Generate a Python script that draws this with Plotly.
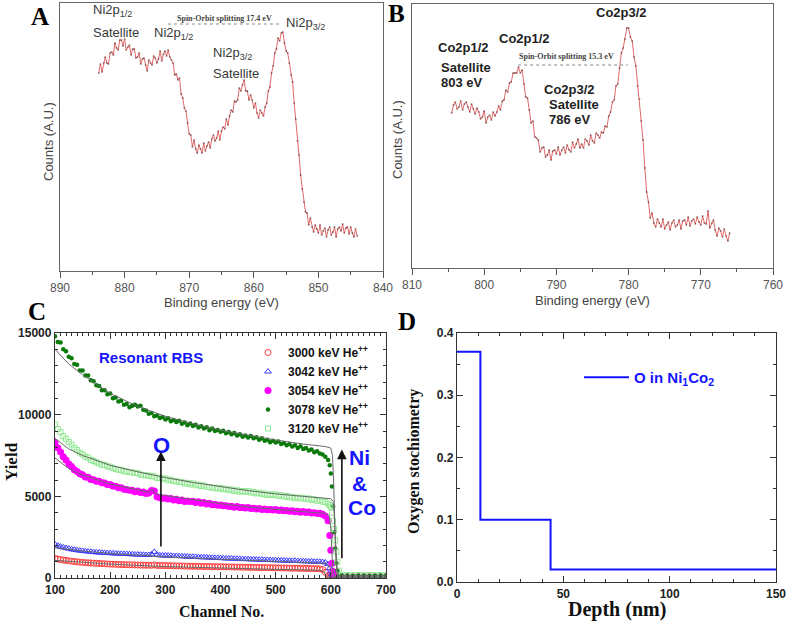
import plotly.graph_objects as go

W, H = 787, 621

def P(x, y):
    return x / W, 1 - y / H

# ---------------- Panel A: Ni 2p XPS ----------------
NI_E = [884.0 - 0.25 * i for i in range(161)]
NI_COUNTS = [198, 207, 199, 208, 214, 208, 207, 218, 219, 216,
             228, 223, 221, 231, 231, 225, 232, 221, 224, 226,
             216, 222, 222, 213, 214, 218, 207, 212, 213, 206,
             200, 211, 208, 206, 215, 213, 208, 212, 220, 210,
             217, 220, 215, 221, 214, 211, 208, 196, 197, 191,
             193, 177, 173, 163, 160, 148, 137, 136, 124, 131,
             122, 118, 126, 122, 118, 128, 120, 125, 129, 123,
             132, 136, 130, 133, 140, 131, 140, 144, 142, 152,
             146, 155, 161, 159, 170, 169, 171, 183, 180, 186,
             191, 180, 180, 171, 176, 171, 163, 168, 158, 153,
             161, 158, 155, 164, 168, 180, 184, 198, 205, 218,
             222, 233, 230, 238, 239, 228, 220, 218, 208, 196,
             189, 168, 152, 130, 116, 96, 82, 69, 59, 58,
             46, 53, 44, 39, 46, 42, 38, 46, 36, 40,
             43, 34, 41, 44, 36, 39, 44, 34, 42, 44,
             40, 47, 38, 43, 44, 37, 44, 38, 34, 42, 35]

# ---------------- Panel B: Co 2p XPS ----------------
CO_E = [804.5 - 0.25 * i for i in range(155)]
CO_COUNTS = [155, 163, 166, 159, 161, 167, 158, 164, 166, 161,
             156, 164, 159, 154, 160, 156, 149, 151, 157, 145,
             151, 153, 148, 156, 152, 156, 162, 158, 167, 168,
             178, 176, 185, 186, 195, 195, 195, 201, 195, 198,
             184, 171, 170, 158, 145, 147, 131, 130, 128, 116,
             120, 121, 111, 113, 118, 108, 117, 118, 114, 121,
             113, 118, 121, 115, 123, 118, 116, 126, 120, 124,
             129, 120, 124, 120, 129, 127, 123, 133, 127, 125,
             135, 133, 130, 136, 135, 142, 141, 152, 156, 166,
             168, 182, 184, 200, 215, 220, 229, 240, 240, 231,
             227, 211, 202, 182, 169, 147, 128, 100, 76, 66,
             50, 55, 45, 41, 49, 45, 41, 49, 39, 43,
             46, 38, 45, 48, 41, 43, 48, 39, 47, 48,
             43, 51, 42, 47, 49, 44, 51, 46, 43, 52,
             45, 44, 57, 40, 45, 48, 38, 32, 40, 37,
             31, 39, 32, 27, 35]

# ---------------- Panel C: resonant RBS ----------------
CH = list(range(100, 600, 5)) + [598, 600, 602, 604, 606, 608, 610, 612, 615,
                                 620, 630, 640, 650, 660, 670, 680, 690, 700]
Y3000 = [1200, 1160, 1130, 1100, 1080, 1050, 1030, 1010, 990, 970,
         960, 940, 930, 920, 910, 900, 890, 880, 870, 860,
         850, 845, 840, 830, 825, 820, 815, 810, 805, 800,
         795, 790, 785, 780, 780, 775, 800, 770, 765, 760,
         760, 755, 750, 745, 740, 740, 735, 730, 725, 720,
         720, 715, 710, 710, 705, 700, 700, 695, 690, 690,
         690, 685, 680, 680, 675, 670, 670, 665, 660, 660,
         655, 650, 650, 645, 640, 640, 635, 630, 630, 625,
         620, 620, 615, 610, 610, 605, 600, 600, 595, 590,
         590, 585, 580, 580, 575, 570, 560, 520, 350, 150,
         60, 30, 20, 20, 20, 20, 20, 20, 20, 20, 20, 20, 20, 20, 20, 20, 20, 20]
Y3042 = [2050, 1980, 1920, 1870, 1830, 1800, 1760, 1730, 1700, 1680,
         1660, 1640, 1620, 1600, 1590, 1570, 1560, 1550, 1540, 1530,
         1520, 1510, 1500, 1490, 1480, 1470, 1470, 1460, 1450, 1440,
         1440, 1430, 1420, 1410, 1410, 1450, 1600, 1430, 1390, 1380,
         1380, 1370, 1360, 1350, 1350, 1340, 1330, 1320, 1310, 1300,
         1300, 1290, 1280, 1270, 1270, 1260, 1250, 1240, 1230, 1230,
         1220, 1210, 1200, 1200, 1190, 1180, 1180, 1170, 1160, 1160,
         1150, 1140, 1140, 1130, 1120, 1120, 1110, 1110, 1100, 1090,
         1090, 1080, 1080, 1070, 1060, 1060, 1050, 1050, 1040, 1030,
         1030, 1020, 1020, 1010, 1000, 1000, 990, 980, 950, 850,
         600, 400, 220, 120, 80, 60, 50, 50, 50, 50, 50, 50, 50, 50, 50, 50, 50, 50]
Y3054 = [8300, 7980, 7720, 7430, 7220, 6980, 6820, 6630, 6520, 6380,
         6320, 6180, 6170, 6030, 6020, 5930, 5920, 5830, 5820, 5730,
         5720, 5630, 5620, 5530, 5520, 5430, 5420, 5380, 5370, 5280,
         5320, 5230, 5270, 5180, 5200, 5350, 5320, 4980, 4920, 4880,
         4900, 4830, 4870, 4780, 4820, 4730, 4770, 4680, 4720, 4680,
         4700, 4630, 4670, 4580, 4620, 4530, 4570, 4480, 4520, 4460,
         4470, 4430, 4420, 4380, 4400, 4330, 4370, 4310, 4320, 4280,
         4320, 4260, 4270, 4230, 4250, 4200, 4220, 4180, 4200, 4160,
         4190, 4130, 4170, 4110, 4140, 4080, 4120, 4060, 4090, 4030,
         4070, 4010, 4040, 3980, 4000, 3950, 3970, 3900, 3800, 3500,
         2600, 1700, 900, 400, 200, 120, 100, 80, 70, 60, 60, 60, 60, 60, 60, 60, 60, 60]
Y3078 = [14800, 14450, 14420, 14000, 13880, 13550, 13450, 13100, 13050, 12700,
         12700, 12400, 12400, 12100, 12050, 11800, 11750, 11500, 11500, 11250,
         11300, 11000, 11050, 10800, 10850, 10600, 10650, 10450, 10550, 10600,
         10500, 10550, 10300, 10250, 10050, 10100, 9900, 9950, 9800, 9850,
         9700, 9780, 9600, 9680, 9550, 9620, 9450, 9520, 9350, 9460,
         9300, 9380, 9220, 9290, 9150, 9230, 9050, 9150, 9000, 9060,
         8950, 9020, 8860, 8940, 8800, 8870, 8720, 8800, 8650, 8720,
         8600, 8700, 8550, 8620, 8460, 8550, 8400, 8470, 8310, 8400,
         8300, 8360, 8200, 8270, 8120, 8200, 8050, 8120, 7960, 8060,
         7900, 7960, 7800, 7870, 7700, 7760, 7620, 7560, 7420, 7220,
         6900, 6400, 5600, 4400, 2800, 1800, 900, 450, 200, 150, 150, 140, 150, 150, 140, 150, 150, 150]
Y3120 = [9400, 9120, 8930, 8680, 8520, 8330, 8170, 7980, 7830, 7680,
         7570, 7430, 7370, 7230, 7170, 7080, 7020, 6930, 6920, 6830,
         6820, 6730, 6680, 6630, 6620, 6530, 6520, 6480, 6470, 6430,
         6420, 6330, 6320, 6280, 6270, 6230, 6220, 6130, 6120, 6080,
         6100, 5980, 6020, 5930, 5920, 5880, 5870, 5780, 5820, 5730,
         5800, 5680, 5720, 5630, 5670, 5580, 5570, 5530, 5520, 5480,
         5520, 5430, 5470, 5380, 5420, 5330, 5370, 5280, 5320, 5280,
         5320, 5230, 5270, 5180, 5220, 5130, 5170, 5080, 5120, 5080,
         5120, 5030, 5070, 4980, 5020, 4930, 4970, 4880, 4920, 4880,
         4920, 4830, 4870, 4780, 4820, 4730, 4770, 4680, 4650, 4550,
         4450, 4350, 4000, 3500, 3000, 2300, 1600, 1000, 450, 200, 180, 170, 180, 170, 180, 170, 180, 170]

FIT_CH_3000 = [100, 150, 200, 300, 400, 500, 580, 588, 592, 596, 700]
FIT_3000 = [1080, 950, 850, 700, 600, 530, 480, 350, 100, 20, 20]
FIT_CH_3042 = [100, 150, 200, 300, 400, 500, 590, 598, 602, 606, 700]
FIT_3042 = [1850, 1650, 1500, 1300, 1150, 1000, 900, 700, 200, 50, 50]
FIT_CH_3054 = [100, 125, 150, 200, 250, 270, 276, 282, 300, 350, 400, 450, 500, 550, 590, 597, 600, 602, 604, 607, 700]
FIT_3054 = [7350, 6700, 6300, 5750, 5400, 5250, 5450, 5150, 5050, 4800, 4550, 4350, 4200, 4050, 3950, 3800, 3000, 1500, 500, 100, 50]
FIT_CH_3078 = [100, 125, 150, 200, 250, 300, 350, 400, 450, 500, 550, 590, 600, 603, 605, 607, 609, 611, 613, 700]
FIT_3078 = [14000, 13100, 12450, 11300, 10500, 9900, 9450, 9050, 8750, 8450, 8200, 8050, 7950, 7500, 6000, 3500, 1200, 300, 150, 150]
FIT_CH_3120 = [100, 125, 150, 200, 250, 300, 350, 400, 450, 500, 550, 600, 604, 606, 608, 610, 612, 615, 700]
FIT_3120 = [8550, 7900, 7500, 6900, 6500, 6150, 5850, 5600, 5350, 5150, 5000, 4850, 4700, 4000, 2500, 1000, 300, 150, 150]

# ---------------- Panel D: oxygen depth profile ----------------
DEPTH = [0, 11, 44, 150]
OXY = [0.37, 0.10, 0.02, 0.02]

SANS = "Liberation Sans, Arial, sans-serif"
SERIF = "Liberation Serif, Times New Roman, serif"
GRAY_TXT = "#3a3a3a"
BLUE = "#1414ff"

fig = go.Figure()

fig.add_trace(go.Scatter(x=NI_E, y=NI_COUNTS, mode="lines+markers", xaxis="x", yaxis="y",
                         line=dict(color="#e06a6a", width=1),
                         marker=dict(size=2, color="rgba(70,20,20,0.45)"), showlegend=False))
fig.add_trace(go.Scatter(x=CO_E, y=CO_COUNTS, mode="lines+markers", xaxis="x2", yaxis="y2",
                         line=dict(color="#e06a6a", width=1),
                         marker=dict(size=2, color="rgba(70,20,20,0.45)"), showlegend=False))

series = [
    ("3000", Y3000, dict(symbol="circle-open", size=6, color="#ff3b3b", line=dict(width=1))),
    ("3042", Y3042, dict(symbol="triangle-up-open", size=6, color="#3b3bff", line=dict(width=1))),
    ("3054", Y3054, dict(symbol="circle", size=7, color="#ff00ff")),
    ("3078", Y3078, dict(symbol="circle", size=4.5, color="#0a7a0a")),
    ("3120", Y3120, dict(symbol="square-open", size=5, color="#8fe88f", line=dict(width=1))),
]
for name, ys, mk in series:
    fig.add_trace(go.Scatter(x=CH, y=ys, mode="markers", xaxis="x3", yaxis="y3",
                             marker=mk, name="<b>%s keV He<sup>++</sup></b>" % name,
                             legend="legend"))
for fx, fy in [(FIT_CH_3000, FIT_3000), (FIT_CH_3042, FIT_3042), (FIT_CH_3054, FIT_3054),
               (FIT_CH_3078, FIT_3078), (FIT_CH_3120, FIT_3120)]:
    fig.add_trace(go.Scatter(x=fx, y=fy, mode="lines", xaxis="x3", yaxis="y3",
                             line=dict(color="#6a6a6a", width=1), showlegend=False))

fig.add_trace(go.Scatter(x=DEPTH, y=OXY, mode="lines", xaxis="x4", yaxis="y4",
                         line=dict(color=BLUE, width=2, shape="hv"),
                         name="<b>O in Ni<sub>1</sub>Co<sub>2</sub></b>", legend="legend2"))

def xps_x(dom, rng, anchor):
    return dict(domain=dom, range=rng, anchor=anchor, dtick=10, ticks="outside", ticklen=6,
                tickwidth=1, tickcolor="#555",
                minor=dict(dtick=5, ticks="outside", ticklen=3, tickcolor="#555"),
                showline=True, linecolor="#666", linewidth=1, mirror=True, showgrid=False, zeroline=False,
                tickfont=dict(family=SANS, size=12, color="#555"))

def xps_y(dom, rng, anchor):
    return dict(domain=dom, range=rng, anchor=anchor, showticklabels=False, ticks="",
                showline=True, linecolor="#666", linewidth=1, mirror=True, showgrid=False, zeroline=False)

def rbs_axis(dom, rng, anchor, dtick, mdtick, fmt):
    return dict(domain=dom, range=rng, anchor=anchor, dtick=dtick, ticks="inside", ticklen=6,
                tickwidth=1, tickcolor="#333", tickformat=fmt,
                minor=dict(dtick=mdtick, ticks="inside", ticklen=3, tickcolor="#333"),
                showline=True, linecolor="#333", linewidth=1.3, mirror="allticks",
                showgrid=False, zeroline=False,
                tickfont=dict(family=SANS, size=12, color="#222", weight="bold"))

fig.update_layout(
    width=W, height=H, margin=dict(l=0, r=0, t=0, b=0, autoexpand=False),
    plot_bgcolor="white", paper_bgcolor="white",
    xaxis=xps_x([60 / W, 383 / W], [890, 840], "y"),
    yaxis=xps_y([1 - 271 / H, 1 - 3 / H], [0, 268], "x"),
    xaxis2=xps_x([412 / W, 773 / W], [810, 760], "y2"),
    yaxis2=xps_y([1 - 268 / H, 1 - 4 / H], [0, 264], "x2"),
    xaxis3=rbs_axis([55 / W, 386 / W], [100, 700], "y3", 100, 10, "d"),
    yaxis3=rbs_axis([1 - 578 / H, 1 - 333 / H], [0, 15000], "x3", 5000, 1000, "d"),
    xaxis4=rbs_axis([457 / W, 776 / W], [0, 150], "y4", 50, 10, "d"),
    yaxis4=rbs_axis([1 - 582 / H, 1 - 333 / H], [0, 0.4], "x4", 0.1, 0.05, ".1f"),
    legend=dict(x=248 / W, y=1 - 338 / H, xanchor="left", yanchor="top", bgcolor="rgba(0,0,0,0)",
                font=dict(family=SANS, size=12, color="#111"), tracegroupgap=0),
    legend2=dict(x=579 / W, y=1 - 361 / H, xanchor="left", yanchor="top", bgcolor="rgba(0,0,0,0)",
                 font=dict(family=SANS, size=15, color=BLUE), itemwidth=45),
    showlegend=True,
)

ann = []

def txt(x, y, s, size=13, color=GRAY_TXT, family=SANS, weight="normal", xanchor="center", angle=0):
    xx, yy = P(x, y)
    ann.append(dict(x=xx, y=yy, xref="paper", yref="paper", text=s, showarrow=False,
                    xanchor=xanchor, yanchor="middle", textangle=angle,
                    font=dict(family=family, size=size, color=color, weight=weight)))

txt(40, 16, "A", 25, "#000", SERIF, "bold")
txt(396, 14, "B", 25, "#000", SERIF, "bold")
txt(37, 311, "C", 25, "#000", SERIF, "bold")
txt(407, 321, "D", 25, "#000", SERIF, "bold")

txt(91, 11, "Ni2p<sub>1/2</sub>", 13, xanchor="left")
txt(91, 32, "Satellite", 13, xanchor="left")
txt(152, 33, "Ni2p<sub>1/2</sub>", 13, xanchor="left")
txt(211, 53, "Ni2p<sub>3/2</sub>", 13, xanchor="left")
txt(211, 74, "Satellite", 13, xanchor="left")
txt(284, 24, "Ni2p<sub>3/2</sub>", 13, xanchor="left")
txt(225, 18, "Spin-Orbit splitting 17.4 eV", 8, "#444", SERIF, "bold")
txt(221, 303, "Binding energy (eV)", 13, "#444")
txt(48, 142, "Counts (A.U.)", 13, "#444", angle=-90)

txt(621, 13, "Co2p3/2", 13, "#222", weight="bold")
txt(524, 38, "Co2p1/2", 13, "#222", weight="bold")
txt(436, 47, "Co2p1/2", 13, "#222", weight="bold", xanchor="left")
txt(439, 67, "Satellite", 13, "#222", weight="bold", xanchor="left")
txt(439, 82, "803 eV", 13, "#222", weight="bold", xanchor="left")
txt(542, 90, "Co2p3/2", 13, "#222", weight="bold", xanchor="left")
txt(547, 105, "Satellite", 13, "#222", weight="bold", xanchor="left")
txt(547, 120, "786 eV", 13, "#222", weight="bold", xanchor="left")
txt(566, 57, "Spin-Orbit splitting 15.3 eV", 8, "#444", SERIF, "bold")
txt(592, 301, "Binding energy (eV)", 13, "#444")
txt(397, 140, "Counts (A.U.)", 13, "#444", angle=-90)

txt(151, 357, "Resonant RBS", 15, BLUE, weight="bold")
txt(161, 445, "O", 22, BLUE, weight="bold")
txt(359, 458, "Ni", 21, BLUE, weight="bold")
txt(359, 483, "&amp;", 21, BLUE, weight="bold")
txt(362, 507, "Co", 21, BLUE, weight="bold")
txt(221, 611, "Channel No.", 16, "#111", SERIF, "bold")
txt(11, 462, "Yield", 17, "#111", SERIF, "bold", angle=-90)

txt(617, 609, "Depth (nm)", 20, "#111", SERIF, "bold")
txt(414, 462, "Oxygen stochiometry", 16, "#111", SERIF, "bold", angle=-90)

for xv, y0, y1 in [(292, 1840, 7750), (620, 1120, 7860)]:
    ann.append(dict(x=xv, y=y1, ax=xv, ay=y0, xref="x3", yref="y3", axref="x3", ayref="y3",
                    showarrow=True, arrowhead=2, arrowsize=1.2, arrowwidth=1.6, arrowcolor="#111", text=""))

fig.update_layout(annotations=ann)

fig.add_shape(type="line", xref="x", yref="y", x0=873.3, x1=855.9, y0=247, y1=247,
              line=dict(color="#888", width=1, dash="dot"))
fig.add_shape(type="line", xref="x2", yref="y2", x0=795.3, x1=780.1, y0=203, y1=203,
              line=dict(color="#888", width=1, dash="dot"))

# no modebar; remove the default 8px body margin so the figure sits at the page origin
fig.write_html("out.html", config={"displayModeBar": False},
               post_script="document.body.style.margin='0';document.body.style.overflow='hidden';")
